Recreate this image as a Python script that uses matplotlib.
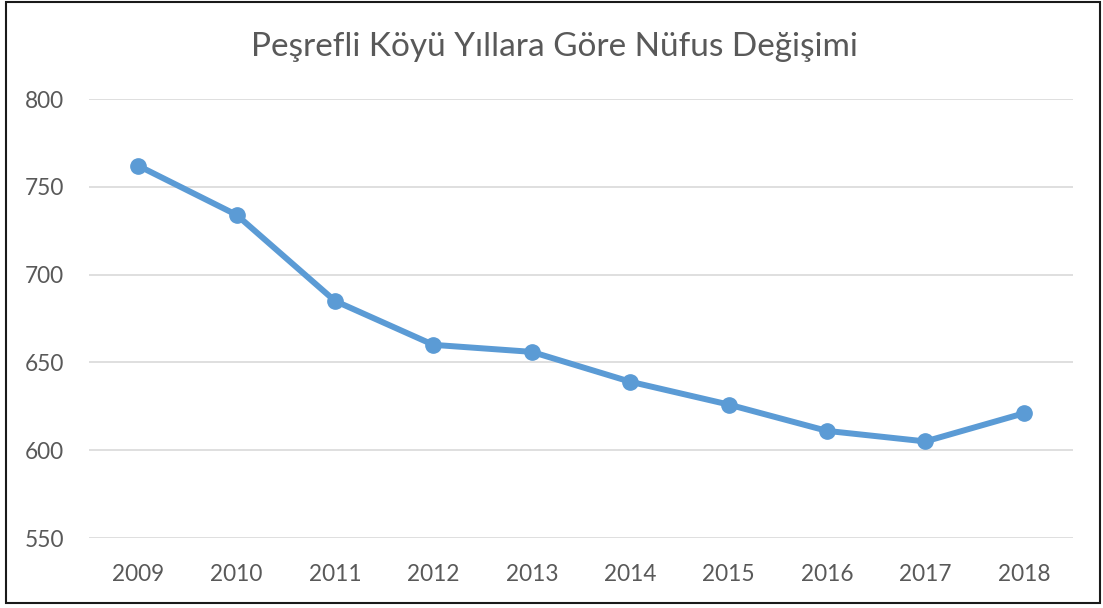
import matplotlib
matplotlib.use("Agg")
from matplotlib import pyplot as plt
from matplotlib.patches import Rectangle

plt.rcParams['font.family'] = ['Lato', 'DejaVu Sans']

years = ['2009', '2010', '2011', '2012', '2013', '2014', '2015', '2016', '2017', '2018']
population = [762, 734, 685, 660, 656, 639, 626, 611, 605, 621]
y_ticks = [550, 600, 650, 700, 750, 800]

W, H = 1103, 608
fig = plt.figure(figsize=(W / 100, H / 100), dpi=100)
ax = fig.add_axes([89 / W, 1 - 538 / H, (1073 - 89) / W, (538 - 99) / H])

x = list(range(len(years)))
ax.plot(x, population, color='#5B9BD5', linewidth=4.3, marker='o', markersize=11,
        solid_capstyle='round', solid_joinstyle='round', zorder=3)

ax.set_xlim(-0.5, len(years) - 0.5)
ax.set_ylim(550, 800)
ax.set_yticks(y_ticks)
ax.set_xticks(x)
ax.set_xticklabels(years)
ax.grid(axis='y', color='#D9D9D9', linewidth=1.2)
ax.set_axisbelow(True)
for s in ax.spines.values():
    s.set_visible(False)
ax.tick_params(axis='both', length=0, labelsize=16.3, colors='#595959')
ax.tick_params(axis='x', pad=19)
ax.tick_params(axis='y', pad=18)

fig.text(554 / W, 1 - 47 / H, 'Peşrefli Köyü Yıllara Göre Nüfus Değişimi',
         ha='center', va='center', fontsize=24, color='#595959')

# outer frame of the chart
fig.patches.append(Rectangle((6 / W, 1 - 603 / H), (1100 - 6) / W, (603 - 2) / H,
                             transform=fig.transFigure, fill=False,
                             edgecolor='#1a1a1a', linewidth=1.5))

fig.savefig('out.png', dpi=100)
